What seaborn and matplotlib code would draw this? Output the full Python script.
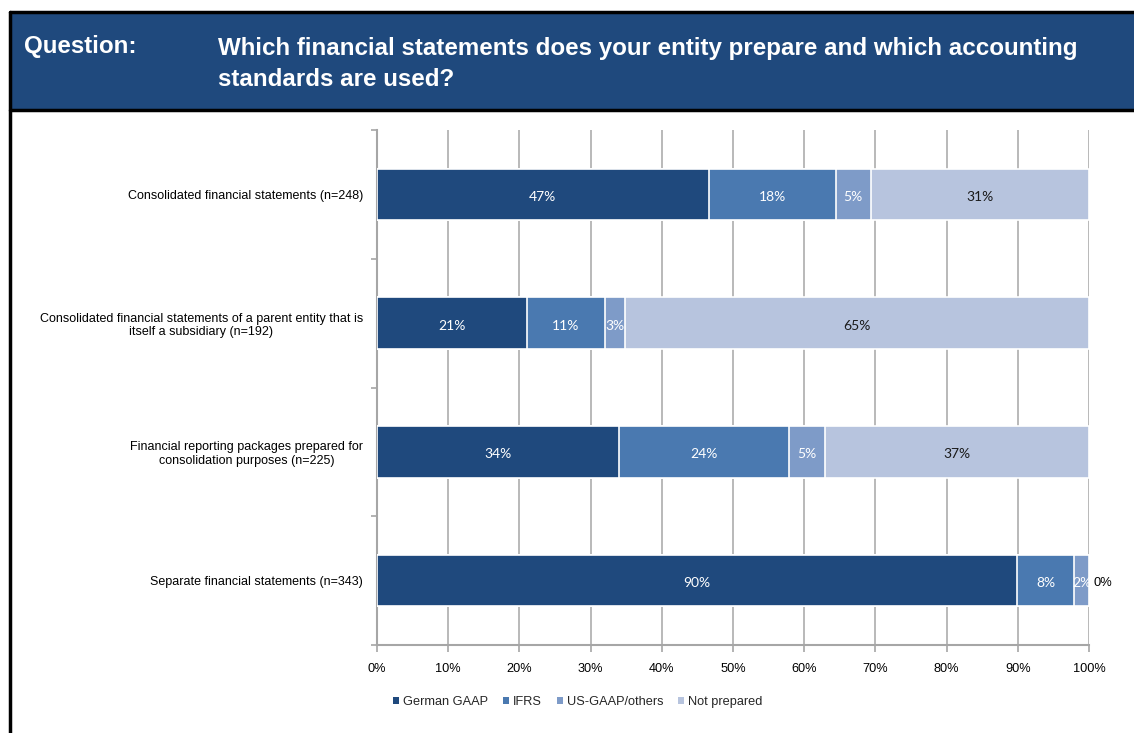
import matplotlib
matplotlib.use("Agg")
import matplotlib.pyplot as plt
from matplotlib.patches import Rectangle, Patch
import numpy as np
import pandas as pd
import seaborn as sns

# Survey results: share of entities per reporting standard (%)
categories = [
    "Consolidated financial statements (n=248)",
    "Consolidated financial statements of a parent entity that is\nitself a subsidiary (n=192)",
    "Financial reporting packages prepared for\nconsolidation purposes (n=225)",
    "Separate financial statements (n=343)",
]
series_names = ["German GAAP", "IFRS", "US-GAAP/others", "Not prepared"]
german_gaap = [46.6, 21.0, 34.0, 89.9]
ifrs = [17.8, 11.0, 23.9, 8.0]
us_gaap_others = [5.0, 2.8, 5.0, 2.1]
not_prepared = [30.6, 65.2, 37.1, 0.0]
x_ticks = [0, 10, 20, 30, 40, 50, 60, 70, 80, 90, 100]

colors = ["#1F497D", "#4A79B0", "#7E9BC8", "#B7C4DE"]
label_colors = ["white", "white", "white", "#1A1A1A"]

title_q = "Question:"
title_text = ("Which financial statements does your entity prepare and which accounting\n"
              "standards are used?")

sns.set_theme(style="white")
plt.rcParams["font.family"] = ["Liberation Sans", "DejaVu Sans"]

W, H = 1134, 733
fig = plt.figure(figsize=(W / 100, H / 100), dpi=100)
fig.patch.set_facecolor("white")

# Header band with black rules and left border
fig.add_artist(Rectangle((10 / W, 1 - 110 / H), 1 - 10 / W, 97 / H,
                         transform=fig.transFigure, facecolor="#1F497D",
                         edgecolor="none", zorder=0))
fig.add_artist(plt.Line2D([10 / W, 1], [1 - 12 / H, 1 - 12 / H],
                          transform=fig.transFigure, color="black", lw=2.5))
fig.add_artist(plt.Line2D([10 / W, 1], [1 - 110 / H, 1 - 110 / H],
                          transform=fig.transFigure, color="black", lw=2.5))
fig.add_artist(plt.Line2D([10 / W, 10 / W], [0, 1 - 12 / H],
                          transform=fig.transFigure, color="black", lw=2.5))

fig.text(24 / W, 1 - 47 / H, title_q, color="white", fontsize=17.4,
         fontweight="bold", va="center", ha="left")
fig.text(218 / W, 1 - 64 / H, title_text, color="white", fontsize=17.4,
         fontweight="bold", va="center", ha="left", linespacing=1.5)

ax = fig.add_axes([377 / W, 1 - 645 / H, (1089 - 377) / W, (645 - 130) / H])

series = [german_gaap, ifrs, us_gaap_others, not_prepared]
cum = np.cumsum(np.array(series), axis=0)

# Stacked bars: draw cumulative totals from the outermost segment inwards
for k in range(len(series) - 1, -1, -1):
    df = pd.DataFrame({"category": categories, "value": cum[k]})
    sns.barplot(data=df, x="value", y="category", orient="h", color=colors[k],
                saturation=1, width=0.4, edgecolor="white", linewidth=1.2,
                errorbar=None, ax=ax, zorder=3)

# Segment labels
for k, vals in enumerate(series):
    for i, v in enumerate(vals):
        end = cum[k][i]
        txt = f"{v:.0f}%"
        if v > 0:
            ax.text(end - v / 2, i + 0.02, txt, ha="center", va="center",
                    color=label_colors[k], fontsize=10, family=["Lato", "DejaVu Sans"],
                    zorder=5)
        else:
            ax.text(end + 0.7, i + 0.02, txt, ha="left", va="center",
                    color="black", fontsize=9.3, zorder=5)

ax.set_xlim(0, 100)
ax.set_ylim(3.5, -0.5)
ax.set_xticks(x_ticks)
ax.set_xticklabels([f"{t}%" for t in x_ticks], fontsize=9.2)
ax.set_yticks(range(len(categories)))
ax.set_yticklabels(categories, fontsize=9.0)
for lab in ax.get_yticklabels():
    lab.set_multialignment("center")
ax.set_yticks(np.arange(-0.5, 4.0, 1.0), minor=True)
ax.set_xlabel("")
ax.set_ylabel("")

grid_c = "#A6A6A6"
ax.grid(axis="x", color=grid_c, lw=1.1, zorder=0)
ax.grid(axis="y", visible=False)
ax.set_axisbelow(True)
for s in ["top", "right"]:
    ax.spines[s].set_visible(False)
for s in ["left", "bottom"]:
    ax.spines[s].set_color(grid_c)
    ax.spines[s].set_linewidth(1.5)
ax.tick_params(axis="y", which="major", length=0, pad=10, colors="black")
ax.tick_params(axis="y", which="minor", length=4, width=1.2, color=grid_c, left=True)
ax.tick_params(axis="x", which="major", length=5, width=1.2, color=grid_c,
               bottom=True, pad=8, labelcolor="black")

handles = [Patch(facecolor=c, edgecolor="none") for c in colors]
fig.legend(handles, series_names, loc="center", bbox_to_anchor=(578 / W, 1 - 702 / H),
           ncol=4, frameon=False, fontsize=9.2, handlelength=0.45, handleheight=0.45,
           handletextpad=0.35, columnspacing=1.15)

fig.savefig("out.png", dpi=100, facecolor="white")
